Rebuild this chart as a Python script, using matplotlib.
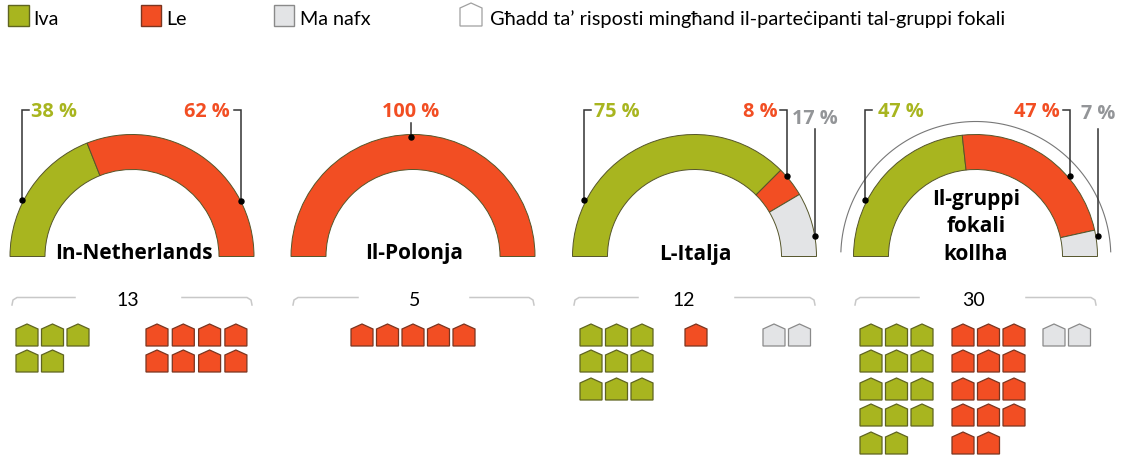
import numpy as np
import matplotlib
matplotlib.use("Agg")
from matplotlib import pyplot as plt
from matplotlib.patches import Wedge, Polygon, Rectangle

# data
names = ["In-Netherlands", "Il-Polonja", "L-Italja", "Il-gruppi\nfokali\nkollha"]
pct_iva = [38, 0, 75, 47]
pct_le = [62, 100, 8, 47]
pct_manafx = [0, 0, 17, 7]
totals = [13, 5, 12, 30]
count_iva = [5, 0, 9, 14]
count_le = [8, 5, 1, 14]
count_manafx = [0, 0, 2, 2]
legend_labels = ["Iva", "Le", "Ma nafx", "Għadd ta’ risposti mingħand il-parteċipanti tal-gruppi fokali"]

GREEN = "#A8B51F"
RED = "#F24E23"
GREY = "#E3E4E6"
GREY_TXT = "#939598"
COLORS = [GREEN, RED, GREY]
EDGES = ["#5F6420", "#7A3520", "#8A8A8A"]
BOLD_FONT = ["Open Sans", "DejaVu Sans"]

plt.rcParams["font.family"] = ["Lato", "Noto Sans", "DejaVu Sans"]

fig = plt.figure(figsize=(11.21, 4.56), dpi=100)
ax = fig.add_axes([0, 0, 1, 1])
ax.set_xlim(0, 1121)
ax.set_ylim(456, 0)  # pixel coords, y down
ax.axis("off")

centers = [132, 413, 694.5, 975.5]
BASE = 257.5
R_OUT = 122
R_IN = 87


def house(x, y, col, edge, w=22, h=22, lw=0.9):
    pts = [(x, y + h), (x, y + 5), (x + w / 2, y), (x + w, y + 5), (x + w, y + h)]
    ax.add_patch(Polygon(pts, closed=True, fc=col, ec=edge, lw=lw))


def leader(cx, angle, top, hook=0, r=R_OUT):
    a = np.radians(angle)
    x = cx + r * np.cos(a)
    y = BASE - r * np.sin(a)
    xs = [x, x]
    ys = [y, top]
    if hook:
        xs.append(x + hook)
        ys.append(top)
    ax.plot(xs, ys, color="#333333", lw=1.1, solid_joinstyle="miter", zorder=5)
    ax.plot([x], [y], "o", color="black", ms=3.6, zorder=6)


# legend
for x0, col, edge, lab, off in zip([8, 140.5, 273.5], COLORS, EDGES, legend_labels, [25, 26, 26]):
    ax.add_patch(Rectangle((x0, 5.5), 20.5, 21, fc=col, ec=edge, lw=1))
    ax.text(x0 + off, 19.5, lab, fontsize=14.2, va="center", ha="left")
house(460, 4, "white", "#A0A0A0", w=22, h=23, lw=0.9)
ax.text(489.5, 19.5, legend_labels[3], fontsize=14.4, va="center", ha="left")

# gauges
for cx, a, b, c in zip(centers, pct_iva, pct_le, pct_manafx):
    total = a + b + c
    start = 180.0
    for val, col in zip([a, b, c], COLORS):
        if val == 0:
            continue
        sweep = 180.0 * val / total
        # y axis is flipped, so angles run clockwise from the right
        ax.add_patch(Wedge((cx, BASE), R_OUT, start, start + sweep, width=R_OUT - R_IN,
                           fc=col, ec="#55552a", lw=0.7))
        start += sweep

# outer arc on the last gauge
ang = np.radians(np.linspace(2, 178, 100))
ax.plot(975.8 + 135 * np.cos(ang), BASE - 135 * np.sin(ang), color="#777777", lw=0.8)

# leader lines
leader(centers[0], 153, 111, 7, r=124)
leader(centers[0], 27, 111, -7)
leader(centers[1], 91, 124, r=120)
leader(centers[2], 153, 111, 7, r=124)
leader(centers[2], 41, 111, -7)
leader(centers[2], 9.5, 130)
leader(centers[3], 153, 111, 7, r=124)
leader(centers[3], 40.4, 111, -7, r=123.6)
leader(centers[3], 9.6, 130, r=124)

# percentage labels
lab_kw = dict(fontsize=14.3, fontweight="bold", va="center", family=BOLD_FONT)
ax.text(31, 112, f"{pct_iva[0]} %", color=GREEN, ha="left", **lab_kw)
ax.text(230, 112, f"{pct_le[0]} %", color=RED, ha="right", **lab_kw)
ax.text(411, 112, f"{pct_le[1]} %", color=RED, ha="center", **lab_kw)
ax.text(594, 112, f"{pct_iva[2]} %", color=GREEN, ha="left", **lab_kw)
ax.text(778, 112, f"{pct_le[2]} %", color=RED, ha="right", **lab_kw)
ax.text(838, 119, f"{pct_manafx[2]} %", color=GREY_TXT, ha="right", **lab_kw)
ax.text(878, 112, f"{pct_iva[3]} %", color=GREEN, ha="left", **lab_kw)
ax.text(1060, 112, f"{pct_le[3]} %", color=RED, ha="right", **lab_kw)
ax.text(1115, 114, f"{pct_manafx[3]} %", color=GREY_TXT, ha="right", **lab_kw)

# gauge titles
title_kw = dict(fontsize=15, fontweight="bold", ha="center", va="center", color="black",
                zorder=7, family=BOLD_FONT)
ax.text(133.5, 253.5, names[0], **title_kw)
ax.text(414, 253.5, names[1], **title_kw)
ax.text(695, 254.5, names[2], **title_kw)
for line, yy in zip(names[3].split("\n"), [199.5, 226.5, 254.5]):
    ax.text(976, yy, line, **title_kw)

# brackets with totals
brackets = [(12, 75, 182, 252, 128), (293, 358, 470, 534, 414.5), (574, 638, 735, 815, 683.5), (855, 919, 1026, 1096, 973.5)]
for (x1, x2, x3, x4, xt), n in zip(brackets, totals):
    ax.plot([x1, x1 + 1, x1 + 5, x2], [306, 301, 298.5, 298.5], color="#C8C8C8", lw=1.1)
    ax.plot([x3, x4 - 5, x4 - 1, x4], [298.5, 298.5, 301, 306], color="#C8C8C8", lw=1.1)
    ax.text(xt, 301, str(n), fontsize=14, ha="center", va="center")

# icon blocks
ROWS = [325, 351, 379, 405, 433]


def block(x0, n, per_row, col, edge, pitch=25.5):
    for i in range(n):
        r, k = divmod(i, per_row)
        house(x0 + k * pitch, ROWS[r], col, edge)


block(16, count_iva[0], 3, GREEN, EDGES[0])
block(146, count_le[0], 4, RED, EDGES[1], pitch=26.3)
block(351, count_le[1], 5, RED, EDGES[1])
block(580, count_iva[2], 3, GREEN, EDGES[0])
block(685, count_le[2], 3, RED, EDGES[1])
block(763, count_manafx[2], 2, GREY, EDGES[2])
block(860, count_iva[3], 3, GREEN, EDGES[0])
block(952, count_le[3], 3, RED, EDGES[1])
block(1043, count_manafx[3], 2, GREY, EDGES[2])

fig.savefig("out.png", dpi=100, facecolor="white")
